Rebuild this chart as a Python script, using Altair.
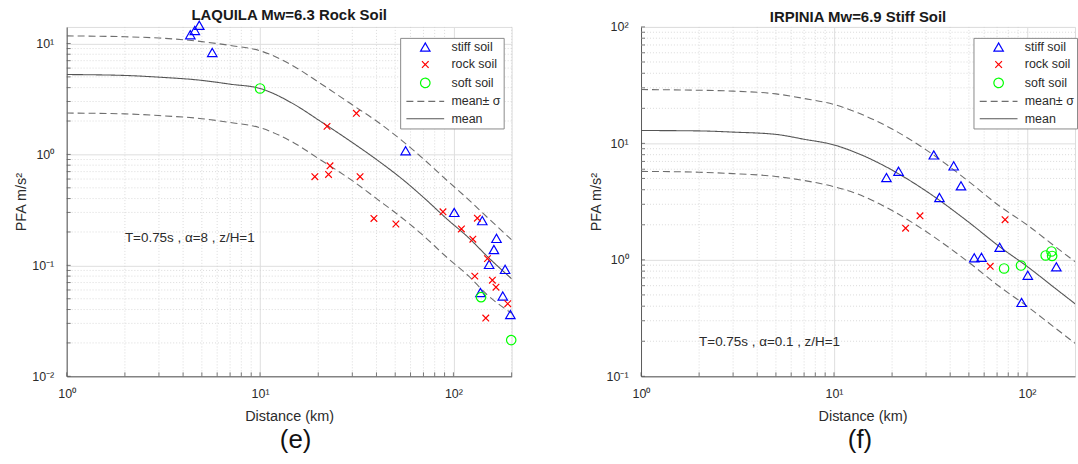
import math

import altair as alt
import pandas as pd

# ---------------------------------------------------------------- series styling
SERIES = ["stiff soil", "rock soil", "soft soil", "mean± σ", "mean"]
SERIES_COLORS = ["#0000ff", "#ff0000", "#00ff00", "#6e6e6e", "#555555"]
SERIES_SHAPES = [
    "triangle-up",
    "M-0.7,-0.7L0.7,0.7M-0.7,0.7L0.7,-0.7",
    "circle",
    "M-4,0H4",
    "M-4,0H4",
]
SERIES_DASH = [[1, 0], [1, 0], [1, 0], [7, 4], [1, 0]]

# ---------------------------------------------------------------- L'Aquila Mw 6.3
LAQ_STIFF_DIST = [4.36, 4.6, 4.85, 5.66, 56.6, 101, 141, 167, 162, 153, 185, 138, 180, 197]
LAQ_STIFF_PFA = [12.0, 13.1, 14.6, 8.3, 1.08, 0.30, 0.253, 0.175, 0.139, 0.102, 0.092, 0.057, 0.053, 0.036]
LAQ_ROCK_DIST = [31.5, 22.2, 23.0, 19.2, 22.6, 32.9, 38.8, 50.4, 88.3, 110, 133, 126, 150, 129, 159, 166, 191, 147]
LAQ_ROCK_PFA = [2.35, 1.79, 0.79, 0.63, 0.66, 0.63, 0.265, 0.236, 0.304, 0.213, 0.266, 0.172, 0.115, 0.080,
                0.0735, 0.0636, 0.0451, 0.0335]
LAQ_SOFT_DIST = [10.0, 139, 199]
LAQ_SOFT_PFA = [3.93, 0.0517, 0.0212]

LAQ_CURVE_DIST = [1, 2, 3, 5, 7, 10, 15, 20, 30, 40, 57, 70, 93, 120, 150, 200]
LAQ_MEAN = [5.25, 5.15, 4.97, 4.65, 4.3, 3.93, 2.83, 2.05, 1.28, 0.9, 0.56, 0.41, 0.26, 0.177, 0.12, 0.0757]
LAQ_UPPER = [11.7, 11.5, 11.2, 10.4, 9.6, 8.6, 6.2, 4.5, 2.8, 2.0, 1.24, 0.91, 0.58, 0.39, 0.27, 0.170]
LAQ_LOWER = [2.36, 2.32, 2.24, 2.1, 1.94, 1.74, 1.27, 0.92, 0.58, 0.40, 0.25, 0.185, 0.117, 0.08, 0.054, 0.037]
LAQ_NOTE = "T=0.75s , α=8 , z/H=1"
LAQ_NOTE_AT = (2.0, 0.178)

# ---------------------------------------------------------------- Irpinia Mw 6.9
IRP_STIFF_DIST = [18.7, 21.6, 32.9, 41.7, 45.5, 35.2, 72.2, 53.3, 58.1, 101, 142, 93.8]
IRP_STIFF_PFA = [5.09, 5.77, 7.96, 6.41, 4.32, 3.43, 1.28, 1.04, 1.05, 0.738, 0.871, 0.431]
IRP_ROCK_DIST = [23.5, 27.9, 77.0, 64.5]
IRP_ROCK_PFA = [1.87, 2.39, 2.21, 0.881]
IRP_SOFT_DIST = [76.1, 93.1, 125, 134, 135]
IRP_SOFT_PFA = [0.843, 0.894, 1.09, 1.18, 1.08]

IRP_CURVE_DIST = [1, 2, 3, 5, 7, 10, 13.3, 20, 30, 50, 72, 100, 140, 200]
IRP_MEAN = [12.9, 12.8, 12.5, 11.95, 10.85, 9.7, 8.2, 5.9, 3.9, 2.1, 1.3, 0.88, 0.57, 0.36]
IRP_UPPER = [29.0, 28.6, 28.1, 26.6, 24.3, 21.6, 18.3, 13.3, 8.8, 4.7, 2.9, 2.0, 1.3, 0.83]
IRP_LOWER = [5.75, 5.65, 5.5, 5.2, 4.8, 4.25, 3.67, 2.65, 1.75, 0.95, 0.59, 0.40, 0.26, 0.165]
IRP_NOTE = "T=0.75s , α=0.1 , z/H=1"
IRP_NOTE_AT = (2.0, 0.196)

# ---------------------------------------------------------------- axes
X_TICKS = [1, 10, 100]
X_TICK_LABELS = ["10⁰", "10¹", "10²"]
LAQ_Y_TICKS = [0.01, 0.1, 1, 10]
LAQ_Y_TICK_LABELS = ["10⁻²", "10⁻¹", "10⁰", "10¹"]
IRP_Y_TICKS = [0.1, 1, 10, 100]
IRP_Y_TICK_LABELS = ["10⁻¹", "10⁰", "10¹", "10²"]

FONT = "Liberation Sans"
AXIS_GREY = "#5a5a5a"
TEXT_GREY = "#2b2b2b"
PLOT_H = 351


def minor_values(lo_exp, hi_exp, upper):
    vals = [m * 10.0 ** e for e in range(lo_exp, hi_exp) for m in range(2, 10)]
    return [v for v in vals if v <= upper * 1.0001]


def label_expr(values, labels):
    expr = "''"
    for v, lab in reversed(list(zip(values, labels))):
        expr = f"abs(datum.value - {v}) < {v * 0.01} ? '{lab}' : {expr}"
    return expr


def points_frame(groups):
    rows = []
    for name, xs, ys in groups:
        rows += [{"d": x, "pfa": y, "series": name} for x, y in zip(xs, ys)]
    return pd.DataFrame(rows)


def curves_frame(dist, mean, upper, lower):
    rows = []
    for name, curve, ys in [("mean± σ", "upper", upper), ("mean± σ", "lower", lower), ("mean", "mean", mean)]:
        rows += [{"d": x, "pfa": y, "series": name, "curve": curve} for x, y in zip(dist, ys)]
    return pd.DataFrame(rows)


def panel(title, pts, crv, note, note_at, caption, x_max, width, y_ticks, y_labels,
          y_domain, legend_x, caption_x, xtitle_x):
    xs = alt.Scale(type="log", domain=[1, x_max], nice=False)
    ys = alt.Scale(type="log", domain=y_domain, nice=False)

    legend = alt.Legend(
        title=None, orient="none", legendX=legend_x, legendY=11,
        fillColor="white", strokeColor="#8a8a8a", padding=3,
        labelFont=FONT, labelFontSize=12.5, labelColor=TEXT_GREY,
        labelOffset=20, rowPadding=4.5, symbolSize=90, symbolStrokeWidth=1.2,
        symbolFillColor="transparent", symbolOffset=16,
    )
    color = alt.Color("series:N", scale=alt.Scale(domain=SERIES, range=SERIES_COLORS), legend=legend)

    x_axis = alt.Axis(
        values=X_TICKS, labelExpr=label_expr(X_TICKS, X_TICK_LABELS),
        title="Distance (km)", titleX=xtitle_x, titleY=40, titleBaseline="middle",
        titleFontSize=14.5, titleFontWeight="normal", titleColor=TEXT_GREY, titleFont=FONT,
        labelFont=FONT, labelFontSize=12.5, labelColor=TEXT_GREY, labelPadding=11,
        ticks=False, domainColor=AXIS_GREY, grid=True, gridColor="#dedede", labelFlush=False,
    )
    y_axis = alt.Axis(
        values=y_ticks, labelExpr=label_expr(y_ticks, y_labels),
        title="PFA m/s²", titleX=-45, titleY=PLOT_H / 2, titleBaseline="middle", titleAlign="center",
        titleFontSize=14.5, titleFontWeight="normal", titleColor=TEXT_GREY, titleFont=FONT,
        labelFont=FONT, labelFontSize=12.5, labelColor=TEXT_GREY, labelPadding=13,
        ticks=False, domainColor=AXIS_GREY, grid=True, gridColor="#dedede", labelFlush=False,
    )

    def X(field):
        return alt.X(field, scale=xs, axis=x_axis)

    def Y(field):
        return alt.Y(field, scale=ys, axis=y_axis)

    lo_e = int(round(math.log10(y_domain[0])))
    hi_e = int(math.floor(math.log10(y_domain[1]))) + 1
    x_minor = pd.DataFrame({"v": minor_values(0, 3, x_max)})
    y_minor = pd.DataFrame({"v": minor_values(lo_e, hi_e, y_domain[1])})
    x_all = pd.DataFrame({"v": [v for v in X_TICKS if v <= x_max] + list(x_minor["v"])})
    y_all = pd.DataFrame({"v": [v for v in y_ticks if v <= y_domain[1]] + list(y_minor["v"])})

    minor_style = dict(color="#d2d2d2", strokeDash=[1, 2], strokeWidth=0.8)
    grid_x = alt.Chart(x_minor).mark_rule(**minor_style).encode(x=X("v:Q"))
    grid_y = alt.Chart(y_minor).mark_rule(**minor_style).encode(y=Y("v:Q"))

    tick_x = alt.Chart(x_all).mark_rule(color=AXIS_GREY, strokeWidth=0.8).encode(
        x=X("v:Q"), y=alt.value(PLOT_H), y2=alt.value(PLOT_H - 4))
    tick_y = alt.Chart(y_all).mark_rule(color=AXIS_GREY, strokeWidth=0.8).encode(
        y=Y("v:Q"), x=alt.value(0), x2=alt.value(4))

    lines = alt.Chart(crv).mark_line(strokeWidth=1.1, clip=True, interpolate="monotone").encode(
        x=X("d:Q"),
        y=Y("pfa:Q"),
        color=color,
        strokeDash=alt.StrokeDash("series:N", scale=alt.Scale(domain=SERIES, range=SERIES_DASH), legend=legend),
        detail="curve:N",
        order=alt.Order("d:Q"),
    )
    marks = alt.Chart(pts).mark_point(filled=False, size=90, strokeWidth=1.2, opacity=1).encode(
        x=X("d:Q"),
        y=Y("pfa:Q"),
        color=color,
        shape=alt.Shape("series:N", scale=alt.Scale(domain=SERIES, range=SERIES_SHAPES), legend=legend),
    )
    note_df = pd.DataFrame({"d": [note_at[0]], "pfa": [note_at[1]], "note": [note]})
    note_mark = alt.Chart(note_df).mark_text(
        align="left", baseline="middle", font=FONT, fontSize=13.5, color=TEXT_GREY
    ).encode(x=X("d:Q"), y=Y("pfa:Q"), text="note:N")
    cap_df = pd.DataFrame({"cap": [caption]})
    cap_mark = alt.Chart(cap_df).mark_text(
        align="center", baseline="middle", font=FONT, fontSize=26, color="#111111"
    ).encode(x=alt.value(caption_x), y=alt.value(415), text="cap:N")

    return alt.layer(grid_x, grid_y, tick_x, tick_y, lines, marks, note_mark, cap_mark).properties(
        width=width, height=PLOT_H,
        title=alt.TitleParams(title, font=FONT, fontSize=15, fontWeight="bold", color="#1a1a1a",
                              anchor="middle", offset=-4),
    )


laq = panel(
    "LAQUILA Mw=6.3 Rock Soil",
    points_frame([("stiff soil", LAQ_STIFF_DIST, LAQ_STIFF_PFA),
                  ("rock soil", LAQ_ROCK_DIST, LAQ_ROCK_PFA),
                  ("soft soil", LAQ_SOFT_DIST, LAQ_SOFT_PFA)]),
    curves_frame(LAQ_CURVE_DIST, LAQ_MEAN, LAQ_UPPER, LAQ_LOWER),
    LAQ_NOTE, LAQ_NOTE_AT, "(e)", 200, 447, LAQ_Y_TICKS, LAQ_Y_TICK_LABELS, [0.01, 14.1],
    legend_x=335, caption_x=230, xtitle_x=223.5,
)
irp = panel(
    "IRPINIA Mw=6.9 Stiff Soil",
    points_frame([("stiff soil", IRP_STIFF_DIST, IRP_STIFF_PFA),
                  ("rock soil", IRP_ROCK_DIST, IRP_ROCK_PFA),
                  ("soft soil", IRP_SOFT_DIST, IRP_SOFT_PFA)]),
    curves_frame(IRP_CURVE_DIST, IRP_MEAN, IRP_UPPER, IRP_LOWER),
    IRP_NOTE, IRP_NOTE_AT, "(f)", 177.4, 436, IRP_Y_TICKS, IRP_Y_TICK_LABELS, [0.1, 100],
    legend_x=334, caption_x=220, xtitle_x=222.5,
)

chart = (
    alt.hconcat(laq, irp, spacing=130, bounds="flush")
    .resolve_scale(color="independent", shape="independent", strokeDash="independent")
    .resolve_legend(color="independent", shape="independent", strokeDash="independent")
    .properties(padding={"left": 13, "top": 6, "right": 0, "bottom": 0}, background="white")
    .configure_view(stroke=None)
    .configure(font=FONT)
)

chart.save("out.html", embed_options={"renderer": "svg", "actions": False})
